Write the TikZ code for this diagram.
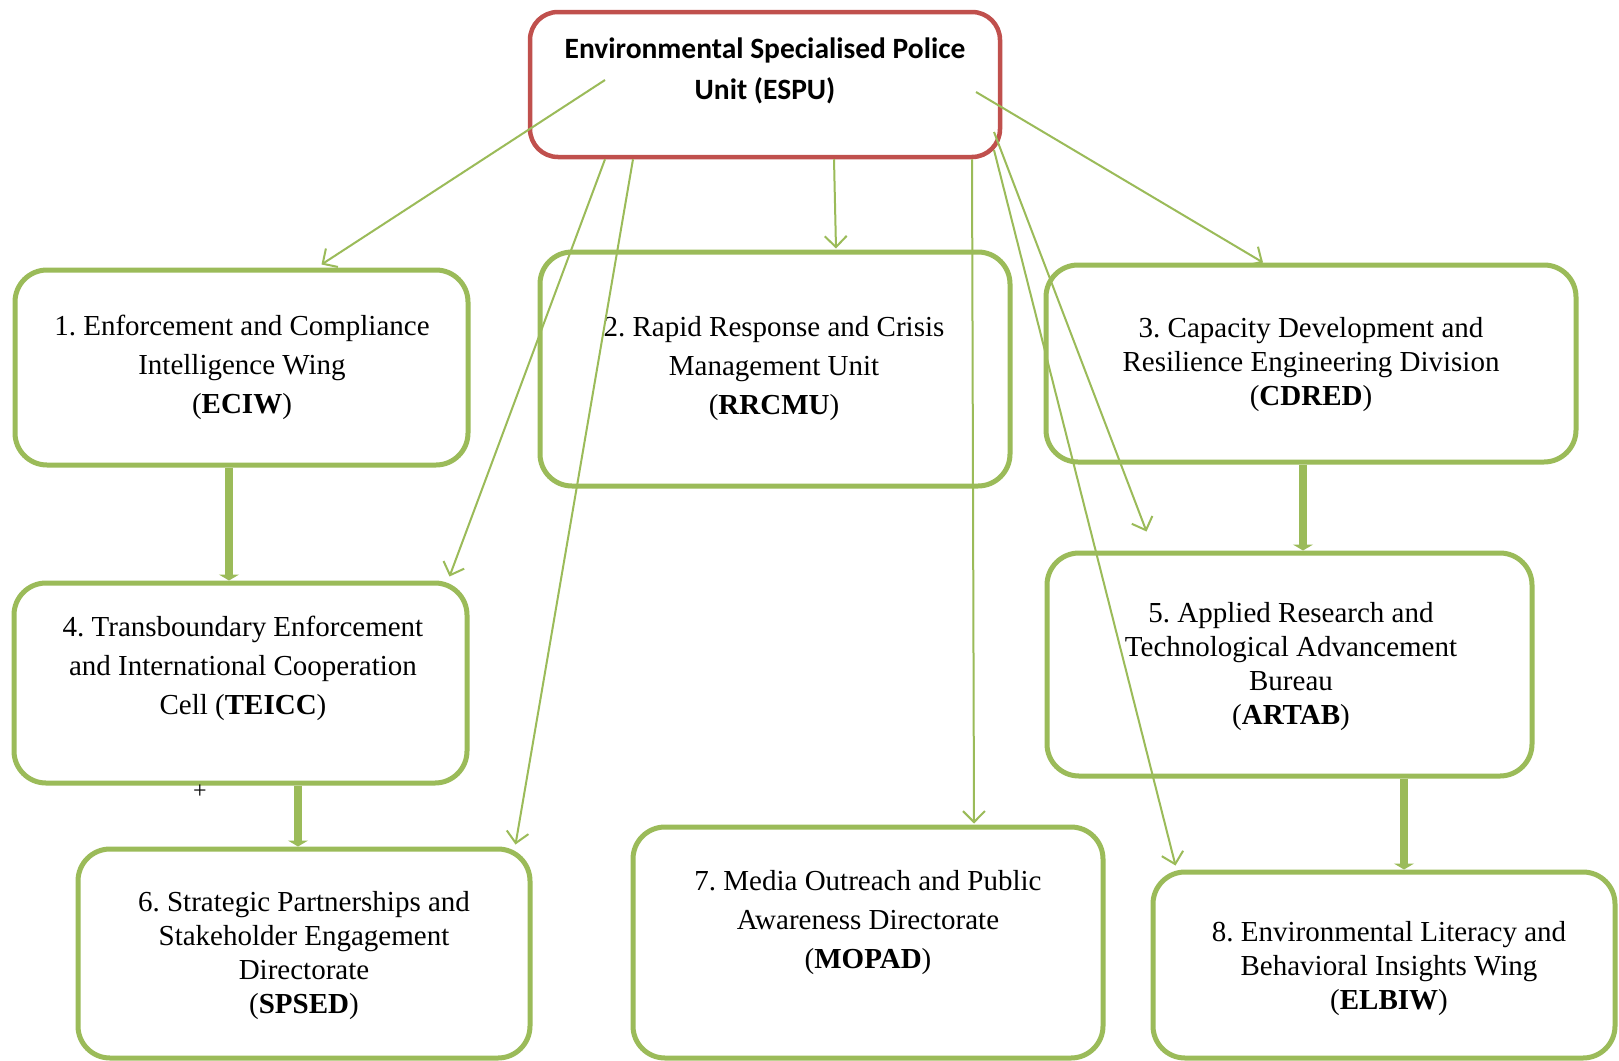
\documentclass[tikz,border=0pt]{standalone}
\usepackage{fontspec}
\setmainfont{Liberation Serif}
\newfontfamily\headfont{Carlito}
\usepackage{tikz}
\usetikzlibrary{arrows.meta,calc}
\usepackage{xcolor}
\definecolor{leafgreen}{RGB}{155,187,89}
\definecolor{brick}{RGB}{192,80,77}
\frenchspacing

\begin{document}
\begin{tikzpicture}[x=1pt,y=-1pt,font=\fontsize{29}{39}\selectfont,
  unit/.style={draw=leafgreen,line width=5pt,rounded corners=32pt},
  head/.style={draw=brick,line width=4.5pt,rounded corners=28pt},
  lbl/.style={align=center,inner sep=0pt},
  tight/.style={lbl,font=\fontsize{29}{34}\selectfont},
  link/.style={draw=leafgreen,line width=2pt,-{Straight Barb[length=11pt,width=22pt]}},
  feed/.style={draw=leafgreen,line width=8pt,-{Triangle[length=6pt,width=20pt]}}]
\path[use as bounding box,fill=white] (0,0) rectangle (1619,1060);
\node[head,minimum width=470pt,minimum height=145pt] (espu) at (765,84.5) {};
\foreach \n/\x/\y/\w/\h in {eciw/241.5/367.5/453/195,rrcmu/775/369/470/234,cdred/1311/363.5/530/197,teicc/240.5/683/453/200,artab/1289.5/664.5/485/223,spsed/304/953.5/452/209,mopad/868/942.5/470/231,elbiw/1384/965/462/186}
  \node[unit,minimum width=\w pt,minimum height=\h pt] (\n) at (\x,\y) {};
\node[lbl,font=\headfont\bfseries\fontsize{29.5}{41}\selectfont] (espu-t) at (765,71) {Environmental Specialised Police\\Unit (ESPU)};
\node[lbl] (eciw-t) at (242,367) {1. Enforcement and Compliance\\Intelligence Wing\\(\textbf{ECIW})};
\node[lbl] (rrcmu-t) at (774,369) {2. Rapid Response and Crisis\\Management Unit\\(\textbf{RRCMU})};
\node[tight] (cdred-t) at (1311,365) {3. Capacity Development and\\Resilience Engineering Division\\(\textbf{CDRED})};
\node[lbl] (teicc-t) at (243,668) {4. Transboundary Enforcement\\and International Cooperation\\Cell (\textbf{TEICC})};
\node[tight] (artab-t) at (1291,666.5) {5. Applied Research and\\Technological Advancement\\Bureau\\(\textbf{ARTAB})};
\node[tight] (spsed-t) at (304,955.5) {6. Strategic Partnerships and\\Stakeholder Engagement\\Directorate\\(\textbf{SPSED})};
\node[lbl] (mopad-t) at (868,923) {7. Media Outreach and Public\\Awareness Directorate\\(\textbf{MOPAD})};
\node[tight] (elbiw-t) at (1389,968.5) {8. Environmental Literacy and\\Behavioral Insights Wing\\(\textbf{ELBIW})};
\node[font=\fontsize{24}{24}\selectfont] (plus) at (200,792) {+};
\coordinate (artab-in) at ($(artab.north west)+(102,-19)$);
\draw[link] ($(espu.center)+(-160,-4.5)$) -- ($(eciw.north)+(80,-3)$);
\draw[link] ($(espu.south)+(-160,0)$) -- ($(teicc.north east)+(-20,-4)$);
\draw[link] ($(espu.south)+(-132,0)$) -- ($(spsed.north east)+(-17,-2)$);
\draw[link] ($(espu.south)+(69,0)$) -- ($(rrcmu.north)+(61,-1)$);
\draw[link] ($(espu.south)+(207,0)$) -- ($(mopad.north)+(106,-1)$);
\draw[link] ($(espu.center)+(211,7.5)$) -- ($(cdred.north)+(-48,0)$);
\draw[link] ($(espu.center)+(229,47.5)$) -- (artab-in);
\draw[link] ($(espu.center)+(229,65.5)$) -- ($(elbiw.north west)+(25,-4)$);
\draw[feed] ($(eciw.south)+(-12.5,0)$) coordinate (f1) -- (f1 |- teicc.north);
\draw[feed] ($(teicc.south)+(57.5,0)$) coordinate (f2) -- (f2 |- spsed.north);
\draw[feed] ($(cdred.south)+(-8,0)$) coordinate (f3) -- (f3 |- artab.north);
\draw[feed] ($(artab.south)+(114.5,0)$) coordinate (f4) -- (f4 |- elbiw.north);
\end{tikzpicture}
\end{document}
